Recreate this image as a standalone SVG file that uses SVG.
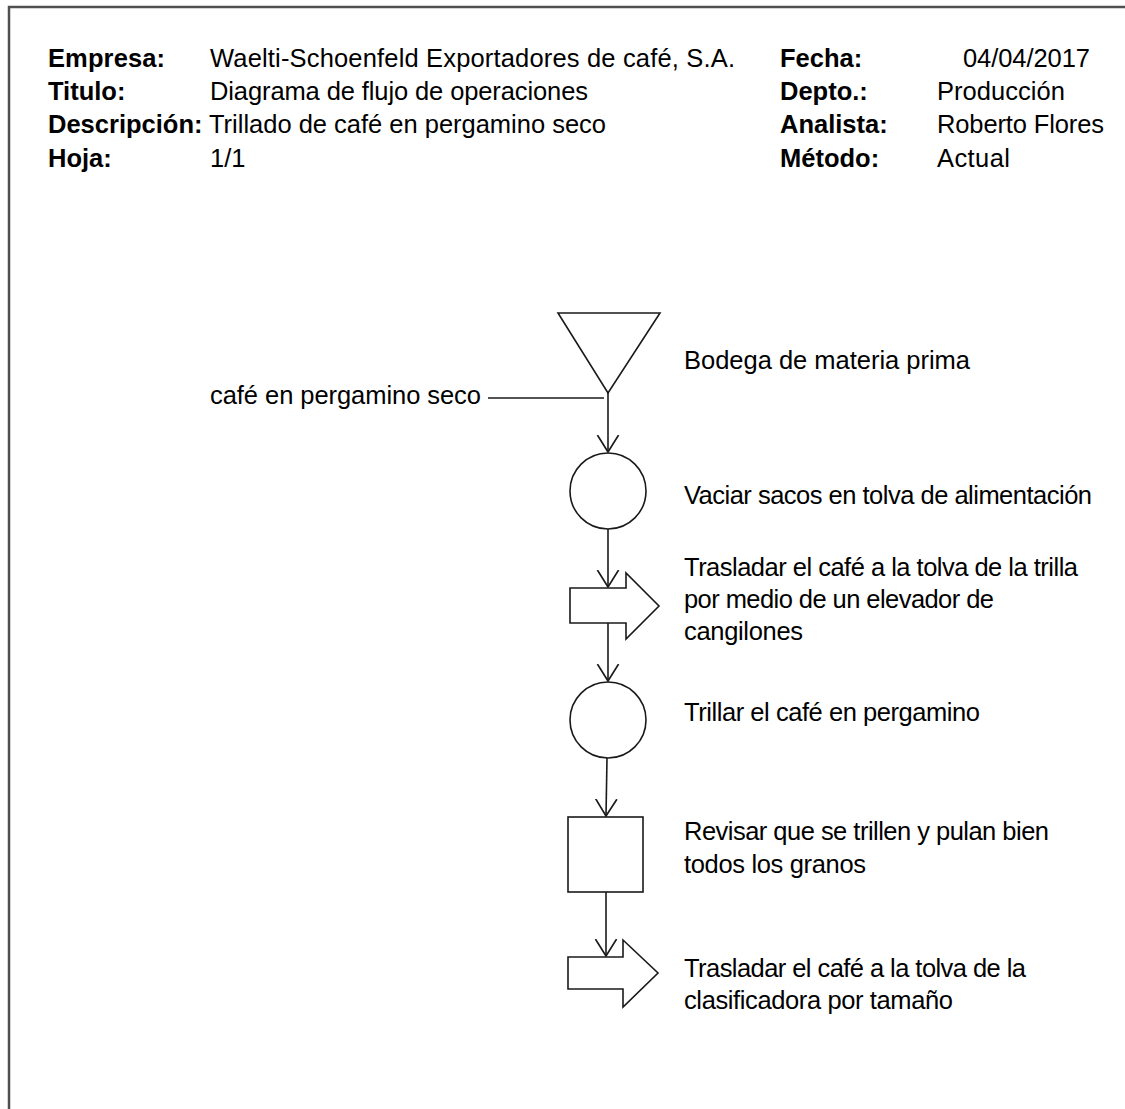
<svg xmlns="http://www.w3.org/2000/svg" width="1125" height="1109" viewBox="0 0 1125 1109">
  <style>
    .lbl { font-family: "Liberation Sans", Arial, sans-serif; font-size: 25.5px; font-weight: bold; fill: #000; }
    .txt { font-family: "Liberation Sans", Arial, sans-serif; font-size: 25.5px; fill: #000; }
    .shape { fill: #fff; stroke: #1a1a1a; stroke-width: 1.6; }
    .conn { fill: none; stroke: #1a1a1a; stroke-width: 1.6; }
  </style>
  <defs>
    <marker id="openHead" markerUnits="userSpaceOnUse" markerWidth="18" markerHeight="24" viewBox="0 0 17 22" refX="16" refY="11" orient="auto">
      <path d="M0,1 L16,11 L0,21" fill="none" stroke="#1a1a1a" stroke-width="1.6"/>
    </marker>
  </defs>

  <rect width="1125" height="1109" fill="#fff"/>
  <!-- sheet frame -->
  <path d="M9,1109 V7 H1125" fill="none" stroke="#505050" stroke-width="2.5"/>

  <!-- header block -->
  <g id="header">
    <text class="lbl" x="48" y="67" textLength="117">Empresa:</text>
    <text class="txt" x="210" y="67" textLength="525">Waelti-Schoenfeld Exportadores de café, S.A.</text>
    <text class="lbl" x="48" y="100">Titulo:</text>
    <text class="txt" x="210" y="100" textLength="378">Diagrama de flujo de operaciones</text>
    <text class="lbl" x="48" y="133">Descripción:</text>
    <text class="txt" x="209" y="133" textLength="397">Trillado de café en pergamino seco</text>
    <text class="lbl" x="48" y="167">Hoja:</text>
    <text class="txt" x="210" y="167">1/1</text>

    <text class="lbl" x="780" y="67">Fecha:</text>
    <text class="txt" x="963" y="67" textLength="127">04/04/2017</text>
    <text class="lbl" x="780" y="100">Depto.:</text>
    <text class="txt" x="937" y="100" textLength="128">Producción</text>
    <text class="lbl" x="780" y="133">Analista:</text>
    <text class="txt" x="937" y="133" textLength="167">Roberto Flores</text>
    <text class="lbl" x="780" y="167">Método:</text>
    <text class="txt" x="937" y="167" textLength="73">Actual</text>
  </g>

  <!-- flow connectors -->
  <g id="connectors">
    <line class="conn" x1="488" y1="398" x2="604" y2="398"/>
    <line class="conn" x1="608" y1="393" x2="608" y2="452" marker-end="url(#openHead)"/>
    <line class="conn" x1="608" y1="529" x2="608" y2="587" marker-end="url(#openHead)"/>
    <line class="conn" x1="608" y1="623" x2="608" y2="681" marker-end="url(#openHead)"/>
    <line class="conn" x1="607" y1="758" x2="606" y2="816" marker-end="url(#openHead)"/>
    <line class="conn" x1="606" y1="892" x2="606" y2="956" marker-end="url(#openHead)"/>
  </g>

  <g id="input">
    <text class="txt" x="210" y="404" textLength="271">café en pergamino seco</text>
  </g>

  <g id="storage">
    <polygon class="shape" points="558,313 660,313 608,393"/>
    <text class="txt" x="684" y="369" textLength="286">Bodega de materia prima</text>
  </g>

  <g id="op1">
    <circle class="shape" cx="608" cy="491" r="38"/>
    <text class="txt" x="684" y="504" textLength="408">Vaciar sacos en tolva de alimentación</text>
  </g>

  <g id="transport1">
    <polygon class="shape" points="570,588 626,588 626,573 659,606 626,639 626,623 570,623"/>
    <text class="txt" x="684" y="576" textLength="394">Trasladar el café a la tolva de la trilla</text>
    <text class="txt" x="684" y="608" textLength="310">por medio de un elevador de</text>
    <text class="txt" x="684" y="640" textLength="119">cangilones</text>
  </g>

  <g id="op2">
    <circle class="shape" cx="608" cy="720" r="38"/>
    <text class="txt" x="684" y="721" textLength="296">Trillar el café en pergamino</text>
  </g>

  <g id="inspection">
    <rect class="shape" x="568" y="817" width="75" height="75"/>
    <text class="txt" x="684" y="840" textLength="365">Revisar que se trillen y pulan bien</text>
    <text class="txt" x="684" y="873" textLength="182">todos los granos</text>
  </g>

  <g id="transport2">
    <polygon class="shape" points="568,957 623,957 623,940 658,973 623,1007 623,989 568,989"/>
    <text class="txt" x="684" y="977" textLength="342">Trasladar el café a la tolva de la</text>
    <text class="txt" x="684" y="1009" textLength="269">clasificadora por tamaño</text>
  </g>
</svg>
